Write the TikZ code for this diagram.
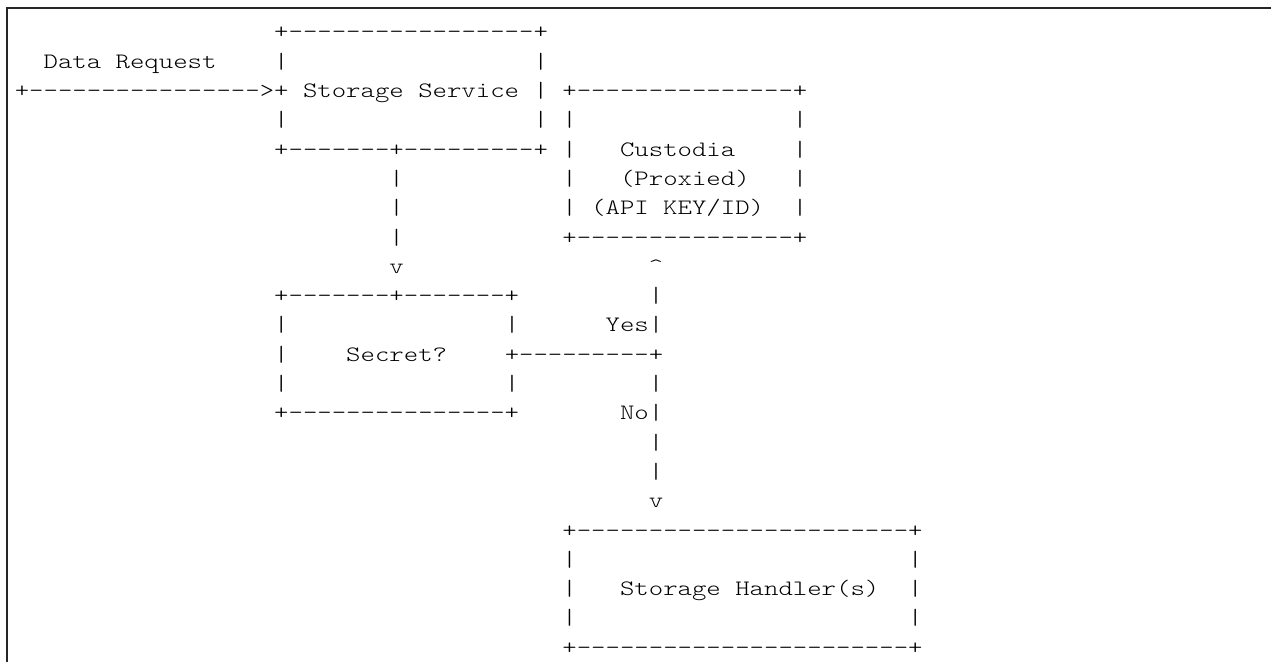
\documentclass[tikz,border=0pt]{standalone}
\usepackage{fontspec}
\usepackage{tikz}
\newfontfamily\asciifont[FakeStretch=1.2476]{Latin Modern Mono Light}
\tikzstyle{ascii} = [inner sep=0pt, anchor=base west, text=black, font=\asciifont\fontsize{11}{13}\selectfont]
\tikzstyle{frameline} = [line width=0.9pt, black!85]

\begin{document}
\begin{tikzpicture}[x=7.205pt, y=-14.65pt]
\useasboundingbox (0pt, 0pt) rectangle (635.5pt, -331pt);
\draw [frameline] (3.5pt, -331pt) -- (3.5pt, -4pt) -- (635.5pt, -4pt);

\begin{scope}[shift={(1, 1.33)}]
% request, storage service

\node [ascii] at (18, 0) (sstop) {+-----------------+};
\node [ascii] at (2, 1) (req) {Data Request};
\node [ascii] at (18, 1) (ssl1) {|};
\node [ascii] at (36, 1) (ssr1) {|};
\node [ascii] at (0, 2) (reqline) {+---------------->+};
\node [ascii] at (20, 2) (ss) {Storage Service};
\node [ascii] at (36, 2) (ssr2) {|};
\node [ascii] at (18, 3) (ssl3) {|};
\node [ascii] at (36, 3) (ssr3) {|};
\node [ascii] at (18, 4) (ssbot) {+-------+---------+};
\node [ascii] at (26, 5) (down1) {|};
\node [ascii] at (26, 6) (down2) {|};
\node [ascii] at (26, 7) (down3) {|};
\node [ascii] at (26, 8) (downtip) {v};

% custodia

\node [ascii] at (38, 2) (custop) {+---------------+};
\node [ascii] at (38, 3) (cusl3) {|};
\node [ascii] at (54, 3) (cusr3) {|};
\node [ascii] at (38, 4) (cusl4) {|};
\node [ascii] at (42, 4) (cus) {Custodia};
\node [ascii] at (54, 4) (cusr4) {|};
\node [ascii] at (38, 5) (cusl5) {|};
\node [ascii] at (42, 5) (proxied) {(Proxied)};
\node [ascii] at (54, 5) (cusr5) {|};
\node [ascii] at (38, 6) (cusl6) {|};
\node [ascii] at (40, 6) (apikey) {(API KEY/ID)};
\node [ascii] at (54, 6) (cusr6) {|};
\node [ascii] at (38, 7) (cusbot) {+---------------+};
\node [ascii] at (44, 8) (uptip) {\textasciicircum};

% secret?

\node [ascii] at (18, 9) (sectop) {+-------+-------+};
\node [ascii] at (44, 9) (up1) {|};
\node [ascii] at (18, 10) (secl10) {|};
\node [ascii] at (34, 10) (secr10) {|};
\node [ascii] at (41, 10) (yes) {Yes|};
\node [ascii] at (18, 11) (secl11) {|};
\node [ascii] at (23, 11) (sec) {Secret?};
\node [ascii] at (34, 11) (branch) {+---------+};
\node [ascii] at (18, 12) (secl12) {|};
\node [ascii] at (34, 12) (secr12) {|};
\node [ascii] at (44, 12) (no1) {|};
\node [ascii] at (18, 13) (secbot) {+---------------+};
\node [ascii] at (42, 13) (no) {No|};
\node [ascii] at (44, 14) (no2) {|};
\node [ascii] at (44, 15) (no3) {|};
\node [ascii] at (44, 16) (notip) {v};

% storage handler(s)

\node [ascii] at (38, 17) (shtop) {+-----------------------+};
\node [ascii] at (38, 18) (shl18) {|};
\node [ascii] at (62, 18) (shr18) {|};
\node [ascii] at (38, 19) (shl19) {|};
\node [ascii] at (42, 19) (sh) {Storage Handler(s)};
\node [ascii] at (62, 19) (shr19) {|};
\node [ascii] at (38, 20) (shl20) {|};
\node [ascii] at (62, 20) (shr20) {|};
\node [ascii] at (38, 21) (shbot) {+-----------------------+};
\end{scope}

\end{tikzpicture}
\end{document}
